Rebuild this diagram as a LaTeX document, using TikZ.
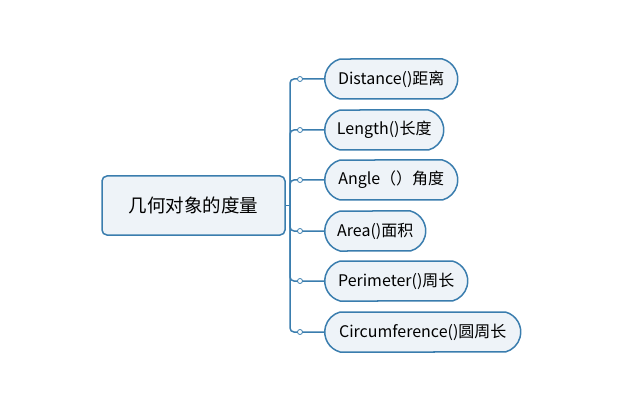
\documentclass[tikz,border=0pt]{standalone}
\usepackage{fontspec}
\setmainfont{Noto Sans CJK SC}
\usetikzlibrary{positioning,shapes.misc}
\definecolor{edge}{HTML}{3A7DAE}
\definecolor{boxfill}{HTML}{EEF3F8}
\tikzset{
  rootbox/.style={draw=edge,fill=boxfill,line width=1.5pt,rounded corners=5pt,minimum width=183pt,minimum height=59pt,font=\fontsize{18.5}{22}\selectfont},
  leafbox/.style={draw=edge,fill=boxfill,line width=1.5pt,rounded rectangle,rounded rectangle arc length=150,minimum height=40pt,inner xsep=12pt,font=\fontsize{16}{19}\selectfont},
  link/.style={edge,line width=1.5pt},
  dot/.style={circle,draw=edge,fill=white,line width=0.8pt,inner sep=0pt,minimum size=5pt}
}
\begin{document}
\begin{tikzpicture}[x=1pt,y=-1pt]
\useasboundingbox (0,0) rectangle (637,406);
% root
\node[rootbox] (root) at (193.5,205.5) {几何对象的度量};
% leaves
\node[leafbox,anchor=west,minimum width=157pt] (dist) at (324,79) {Distance()距离};
\node[leafbox,anchor=west,minimum width=143pt] (len) at (324,130) {Length()长度};
\node[leafbox,anchor=west,minimum width=157pt] (ang) at (324,180) {Angle（）角度};
\node[leafbox,anchor=west,minimum width=125pt] (area) at (324,231) {Area()面积};
\node[leafbox,anchor=west,minimum width=167pt] (peri) at (324,281) {Perimeter()周长};
\node[leafbox,anchor=west,minimum width=220pt] (circ) at (324,332) {Circumference()圆周长};
% trunk
\coordinate (hub) at (290,205.5);
\draw[link] (root.east) -- (hub);
\foreach \leaf in {dist,len,ang,area,peri,circ}{
  \draw[link,rounded corners=4pt] (hub) -- (hub |- \leaf.west) -- (\leaf.west);
  \node[dot] at ([xshift=-24pt]\leaf.west) {};
}
\end{tikzpicture}
\end{document}
